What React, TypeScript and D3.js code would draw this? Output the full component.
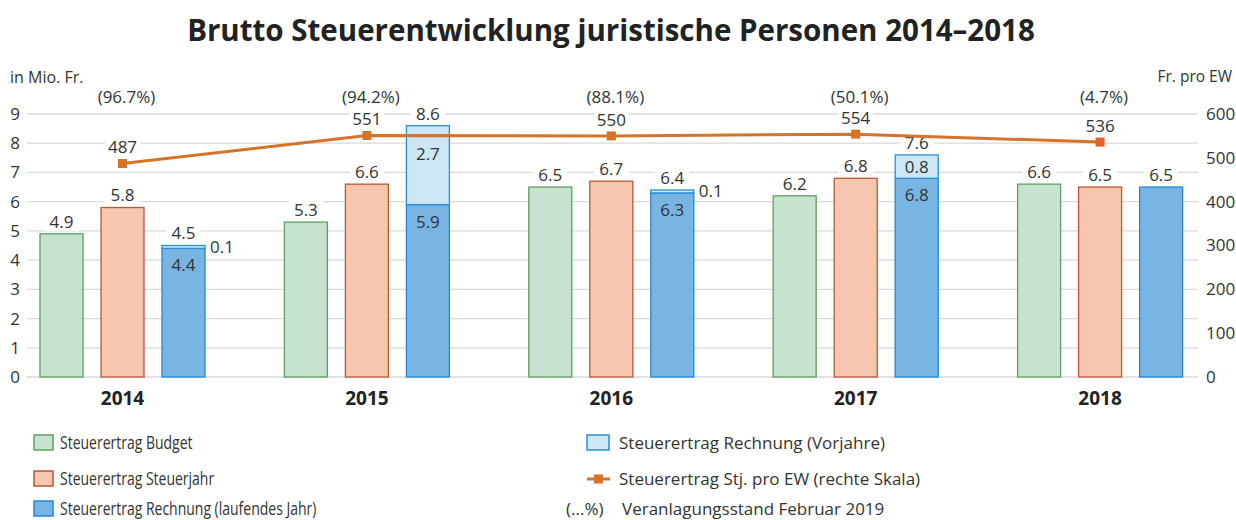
import React from 'react';
import * as d3 from 'd3';

const years = ['2014', '2015', '2016', '2017', '2018'];
const budget = [4.9, 5.3, 6.5, 6.2, 6.6];
const steuerjahr = [5.8, 6.6, 6.7, 6.8, 6.5];
const rechnungLaufend = [4.4, 5.9, 6.3, 6.8, 6.5];
const rechnungVorjahre = [0.1, 2.7, 0.1, 0.8, 0];
const proEW = [487, 551, 550, 554, 536];
const veranlagung = ['(96.7%)', '(94.2%)', '(88.1%)', '(50.1%)', '(4.7%)'];
const leftTicks = [0, 1, 2, 3, 4, 5, 6, 7, 8, 9];
const rightTicks = [0, 100, 200, 300, 400, 500, 600];

const W = 1236;
const H = 520;
const FONT = "'Open Sans', sans-serif";
const TXT = '#333333';

const C = {
  green: '#c6e3d0', greenS: '#5e9e62',
  orange: '#f6c6b1', orangeS: '#b45a35',
  blue: '#78b5e3', blueS: '#1f88d2',
  light: '#cde6f6', lightS: '#2a8fd6',
  line: '#d4732a', grid: '#d9d9d9',
};

function Label({ x, y, text, bg = true, anchor = 'middle', size = 17 }: any) {
  const w = text.length * size * 0.52 + 8;
  const rx = anchor === 'middle' ? x - w / 2 : anchor === 'start' ? x - 3 : x - w + 3;
  return (
    <g>
      {bg && <rect x={rx} y={y - 9} width={w} height={18} fill="#fff" />}
      <text x={x} y={y} dy="0.35em" textAnchor={anchor} fontSize={size} fill={TXT} fontFamily={FONT}>{text}</text>
    </g>
  );
}

export default function App() {
  const x = d3.scaleBand<string>().domain(years).range([0.3, 1222.3]).padding(0);
  const y = d3.scaleLinear().domain([0, 9]).range([377, 114]);
  const yR = d3.scaleLinear().domain([0, 600]).range([377, 114]);
  const bw = 43;
  const off = 61;
  const cx = (i: number) => (x(years[i]) as number) + x.bandwidth() / 2;
  const gridX0 = 27, gridX1 = 1198;
  const line = d3.line<number>().x((_, i) => cx(i)).y((d) => yR(d));
  const fmt = (v: number) => v.toFixed(1);

  return (
    <svg width={W} height={H} style={{ position: 'absolute', left: 0, top: 0 }} fontFamily={FONT}>
      <rect width={W} height={H} fill="#fff" />
      <text x={611} y={31} dy="0.35em" textAnchor="middle" fontSize={29.5} fontWeight={700} fill="#222">
        Brutto Steuerentwicklung juristische Personen 2014–2018
      </text>
      <text x={10} y={77} dy="0.35em" fontSize={16} fill={TXT}>in Mio. Fr.</text>
      <text x={1232} y={77} dy="0.35em" textAnchor="end" fontSize={15.5} fill={TXT}>Fr. pro EW</text>

      {leftTicks.map((t) => (
        <g key={'g' + t}>
          <line x1={gridX0} x2={gridX1} y1={y(t)} y2={y(t)} stroke={C.grid} strokeWidth={1.3} />
          <text x={20} y={y(t)} dy="0.35em" textAnchor="end" fontSize={17} fill={TXT}>{t}</text>
        </g>
      ))}
      {rightTicks.map((t) => (
        <text key={'r' + t} x={1206} y={yR(t)} dy="0.35em" textAnchor="start" fontSize={17} fill={TXT}>{t}</text>
      ))}

      {years.map((yr, i) => {
        const c = cx(i);
        const total = rechnungLaufend[i] + rechnungVorjahre[i];
        const bx = c + off - bw / 2;
        const vj = rechnungVorjahre[i];
        const lightTop = y(total);
        const lightBot = y(rechnungLaufend[i]);
        const lightH = lightBot - lightTop;
        return (
          <g key={yr}>
            <rect x={c - off - bw / 2} y={y(budget[i])} width={bw} height={y(0) - y(budget[i])} fill={C.green} stroke={C.greenS} strokeWidth={1.3} />
            <rect x={c - bw / 2} y={y(steuerjahr[i])} width={bw} height={y(0) - y(steuerjahr[i])} fill={C.orange} stroke={C.orangeS} strokeWidth={1.3} />
            <rect x={bx} y={y(rechnungLaufend[i])} width={bw} height={y(0) - y(rechnungLaufend[i])} fill={C.blue} stroke={C.blueS} strokeWidth={1.3} />
            {vj > 0 && (
              <rect x={bx} y={lightTop} width={bw} height={lightH} fill={C.light} stroke={C.lightS} strokeWidth={1.3} />
            )}
            <Label x={c - off} y={y(budget[i]) - 12} text={fmt(budget[i])} />
            <Label x={c} y={y(steuerjahr[i]) - 12} text={fmt(steuerjahr[i])} />
            <Label x={c + off} y={y(total) - 12} text={fmt(total)} />
            {vj > 0 && (
              <Label x={c + off} y={lightBot + 17} text={fmt(rechnungLaufend[i])} bg={false} />
            )}
            {vj > 0 && lightH > 15 && (
              <Label x={c + off} y={lightTop + Math.min(28, lightH / 2)} text={fmt(vj)} bg={false} />
            )}
            {vj > 0 && lightH <= 15 && (
              <Label x={bx + bw + 5} y={(lightTop + lightBot) / 2} text={fmt(vj)} anchor="start" />
            )}
            <text x={c} y={398} dy="0.35em" textAnchor="middle" fontSize={19} fontWeight={700} fill="#222">{yr}</text>
            <Label x={c + 4} y={97} text={veranlagung[i]} bg={false} />
          </g>
        );
      })}

      <path d={line(proEW) as string} fill="none" stroke={C.line} strokeWidth={3} />
      {proEW.map((v, i) => (
        <g key={'p' + i}>
          <rect x={cx(i) - 4.5} y={yR(v) - 4.5} width={9} height={9} fill={i === 4 ? '#e0622a' : C.line} />
          <Label x={cx(i)} y={yR(v) - 16} text={String(v)} />
        </g>
      ))}

      {/* Legend */}
      {[
        { t: 'Steuerertrag Budget', f: C.green, s: C.greenS, yy: 443 },
        { t: 'Steuerertrag Steuerjahr', f: C.orange, s: C.orangeS, yy: 479 },
        { t: 'Steuerertrag Rechnung (laufendes Jahr)', f: C.blue, s: C.blueS, yy: 509 },
      ].map((l) => (
        <g key={l.t}>
          <rect x={34} y={l.yy - 8} width={19} height={15} fill={l.f} stroke={l.s} strokeWidth={1.5} />
          <g transform={`translate(60,${l.yy}) scale(0.8,1)`}>
            <text x={0} y={0} dy="0.35em" fontSize={17.5} fill={TXT}>{l.t}</text>
          </g>
        </g>
      ))}
      <rect x={587} y={435} width={22} height={15} fill={C.light} stroke={C.lightS} strokeWidth={1.5} />
      <text x={619} y={443} dy="0.35em" fontSize={17} fill={TXT}>Steuerertrag Rechnung (Vorjahre)</text>
      <line x1={587} x2={610} y1={479} y2={479} stroke={C.line} strokeWidth={3} />
      <rect x={594} y={474.5} width={9} height={9} fill={C.line} />
      <text x={619} y={479} dy="0.35em" fontSize={17} fill={TXT}>Steuerertrag Stj. pro EW (rechte Skala)</text>
      <text x={566} y={509} dy="0.35em" fontSize={17} fill={TXT}>(...%)</text>
      <text x={622} y={509} dy="0.35em" fontSize={17} fill={TXT}>Veranlagungsstand Februar 2019</text>
    </svg>
  );
}
